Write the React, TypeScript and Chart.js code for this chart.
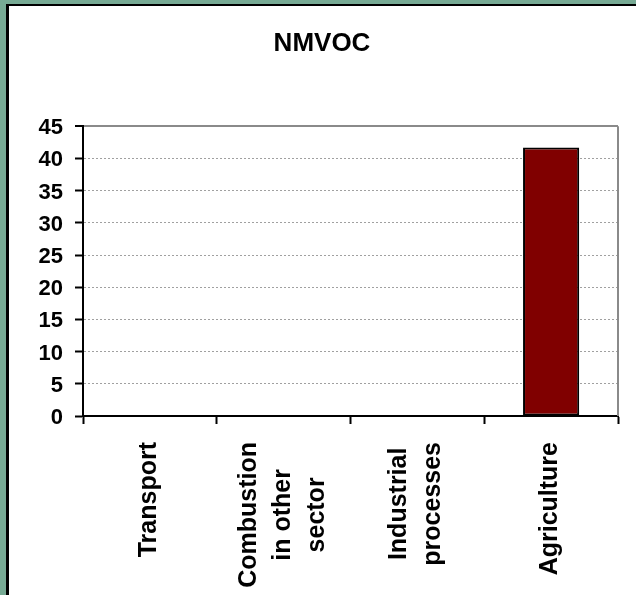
import React, { useEffect, useRef } from 'react';
import { Chart, registerables } from 'chart.js';

Chart.register(...registerables);

const chartTitle = 'NMVOC';
const categories: string[][] = [
  ['Transport'],
  ['Combustion', 'in other', 'sector'],
  ['Industrial', 'processes'],
  ['Agriculture'],
];
const values: number[] = [0, 0, 0, 41.7];
const yTickValues: number[] = [0, 5, 10, 15, 20, 25, 30, 35, 40, 45];

const FONT = '"Liberation Sans", Arial, Helvetica, sans-serif';

const decorPlugin = {
  id: 'decor',
  afterDraw(chart: any) {
    const { ctx, chartArea, scales } = chart;
    const x = scales.x;
    ctx.save();
    // right border of plot area
    ctx.strokeStyle = '#8a8a8a';
    ctx.lineWidth = 2;
    ctx.beginPath();
    ctx.moveTo(chartArea.right, chartArea.top);
    ctx.lineTo(chartArea.right, chartArea.bottom);
    ctx.stroke();

    // rotated, multi-line category labels
    ctx.font = `bold 25px ${FONT}`;
    ctx.fillStyle = '#000';
    ctx.textAlign = 'center';
    ctx.textBaseline = 'alphabetic';
    categories.forEach((lines, i) => {
      const cx = x.getPixelForValue(i);
      const L = Math.max(...lines.map((l) => ctx.measureText(l).width));
      const top = x.top + 26;
      ctx.save();
      ctx.translate(cx, top + L / 2);
      ctx.rotate(-Math.PI / 2);
      lines.forEach((l, j) => {
        ctx.fillText(l, 0, (j - (lines.length - 1) / 2) * 34 + 6);
      });
      ctx.restore();
    });
    ctx.restore();
  },
};

export default function App() {
  const ref = useRef<HTMLCanvasElement | null>(null);

  useEffect(() => {
    if (!ref.current) return;
    const chart = new Chart(ref.current, {
      type: 'bar',
      data: {
        labels: categories.map((c) => c.join(' ')),
        datasets: [
          {
            data: values,
            backgroundColor: '#800000',
            borderColor: '#000000',
            borderWidth: 2,
            borderSkipped: false,
            barPercentage: 0.42,
            categoryPercentage: 1,
          },
        ],
      },
      options: {
        responsive: false,
        animation: false,
        layout: { padding: { left: 26, right: 18, top: 0, bottom: 0 } },
        plugins: {
          legend: { display: false },
          tooltip: { enabled: false },
          title: {
            display: true,
            text: chartTitle,
            color: '#000',
            font: { family: FONT, size: 26, weight: 'bold', lineHeight: 1.2 },
            padding: { top: 28, bottom: 67 },
          },
        },
        scales: {
          x: {
            grid: {
              offset: true,
              drawOnChartArea: false,
              drawTicks: true,
              tickLength: 8,
              tickColor: '#000',
              tickWidth: 2,
            },
            border: { display: true, color: '#000', width: 2 },
            ticks: { display: false },
            afterFit: (s: any) => {
              s.height = 179;
            },
          },
          y: {
            min: 0,
            max: 45,
            afterBuildTicks: (s: any) => {
              s.ticks = yTickValues.map((v) => ({ value: v }));
            },
            grid: {
              color: (c: any) => (c.tick && c.tick.value === 45 ? '#8a8a8a' : c.tick && c.tick.value === 0 ? 'rgba(0,0,0,0)' : '#a0a0a0'),
              lineWidth: (c: any) => (c.tick && c.tick.value === 45 ? 2 : 1),
              drawTicks: true,
              tickLength: 8,
              tickColor: '#000',
              tickWidth: 2,
            },
            border: {
              display: true,
              color: '#000',
              width: 2,
              dash: (c: any) => (c.tick && c.tick.value === 45 ? [] : [2, 2]),
            },
            ticks: {
              color: '#000',
              padding: 12,
              labelOffset: 2,
              font: { family: FONT, size: 22, weight: 'bold' },
            },
            afterFit: (s: any) => {
              s.width = 57;
            },
          },
        },
      },
      plugins: [decorPlugin],
    });
    return () => chart.destroy();
  }, []);

  return (
    <div
      style={{
        position: 'fixed',
        left: 0,
        top: 0,
        width: 636,
        height: 595,
        background: '#77aa94',
        overflow: 'hidden',
      }}
    >
      <div
        style={{
          position: 'absolute',
          left: 6,
          top: 4,
          width: 700,
          height: 700,
          background: '#ffffff',
          borderLeft: '3px solid #000',
          borderTop: '2px solid #000',
        }}
      />
      <canvas
        ref={ref}
        width={636}
        height={595}
        style={{ position: 'absolute', left: 0, top: 0 }}
      />
    </div>
  );
}
